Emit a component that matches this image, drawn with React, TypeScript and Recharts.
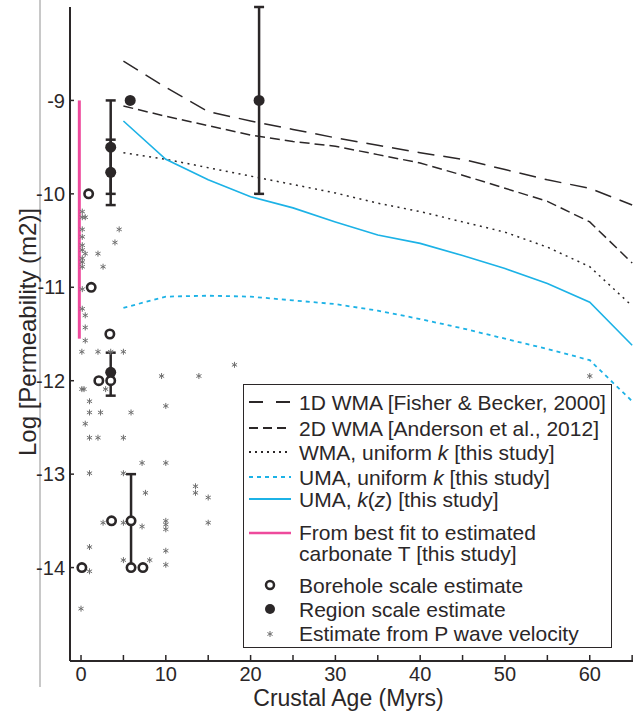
import React from 'react';
import { ComposedChart, Line, Scatter, XAxis, YAxis, ErrorBar } from 'recharts';

// Model curves, sampled every 5 Myr
const AGES = [5, 10, 15, 20, 25, 30, 35, 40, 45, 50, 55, 60, 65];
const WMA_1D = [-8.58, -8.86, -9.12, -9.22, -9.31, -9.4, -9.48, -9.56, -9.63, -9.74, -9.85, -9.94, -10.12];
const WMA_2D = [-9.06, -9.17, -9.27, -9.37, -9.44, -9.49, -9.58, -9.67, -9.8, -9.94, -10.08, -10.3, -10.74];
const WMA_UNIFORM = [-9.56, -9.63, -9.72, -9.81, -9.9, -9.99, -10.1, -10.19, -10.3, -10.41, -10.57, -10.78, -11.2];
const UMA_UNIFORM = [-11.22, -11.1, -11.09, -11.1, -11.14, -11.18, -11.25, -11.34, -11.44, -11.55, -11.66, -11.78, -12.22];
const UMA_KZ = [-9.22, -9.63, -9.85, -10.03, -10.15, -10.3, -10.44, -10.53, -10.66, -10.8, -10.96, -11.16, -11.62];

// Range from best fit to carbonate temperatures
const CARBONATE_AGE = [-0.2, -0.2];
const CARBONATE_LOGK = [-9, -11.55];

// Borehole scale estimates (open circles)
const BOREHOLE_AGE = [0.9, 1.2, 3.4, 2.1, 3.5, 3.6, 0.1, 5.9, 7.3];
const BOREHOLE_LOGK = [-10, -11, -11.5, -12, -12, -13.5, -14, -14, -14];
const BOREHOLE_BAR_AGE = [5.9];
const BOREHOLE_BAR_LOGK = [-13.5];
const BOREHOLE_BAR_ERR = [[0.5, 0.5]];

// Region scale estimates (filled circles)
const REGION_AGE = [5.8];
const REGION_LOGK = [-9.0];
const REGION_BAR_AGE = [3.5, 3.5, 21, 3.5];
const REGION_BAR_LOGK = [-9.5, -9.77, -9.0, -11.91];
const REGION_BAR_ERR = [[0.5, 0.5], [0.35, 0.35], [1, 1], [0.25, 0.21]];

// Estimates from P wave velocity
const PWAVE_AGE = [
  0.15, 0.15, 0.5, 0.15, 4.5, 0.15, 4.0, 0.15, 0.15, 0.5, 2.0, 0.15, 0.15, 0.15, 2.6, 0.15, 0.15, 0.5, 0.5, 0.5,
  0.1, 2.0, 3.5, 5.0, 18.1, 9.5, 13.9, 60, 0.1, 0.35, 2.9, 1.0, 1.0, 2.3, 5.9, 0.5, 1.0, 2.0, 5.0,
  10, 10, 7.2, 5, 1, 7.6, 13.5, 13.5, 15, 15, 10, 10, 10, 10, 10, 8.1, 5, 7.2, 5, 2.6, 1, 1, 0,
];
const PWAVE_LOGK = [
  -10.19, -10.25, -10.25, -10.38, -10.38, -10.46, -10.52, -10.55, -10.6, -10.64, -10.64, -10.69, -10.73, -10.78, -10.78, -11.02, -11.23, -11.3, -11.43, -11.57,
  -11.69, -11.69, -11.69, -11.69, -11.83, -11.95, -11.95, -11.95, -12.09, -12.09, -12.09, -12.22, -12.34, -12.34, -12.34, -12.46, -12.61, -12.61, -12.61,
  -12.27, -12.88, -12.88, -12.99, -12.99, -13.2, -13.13, -13.2, -13.25, -13.52, -13.5, -13.54, -13.59, -13.82, -13.97, -13.92, -13.92, -13.56, -13.52, -13.52, -13.78, -14.04, -14.44,
];

const X_TICKS = [0, 5, 10, 15, 20, 25, 30, 35, 40, 45, 50, 55, 60, 65];
const Y_TICKS = [-14, -13, -12, -11, -10, -9];

const INK = '#2b2728';
const CYAN = '#1cb2e6';
const PINK = '#ee4a9c';
const GREY = '#6f6f6f';
const FONT = '"Liberation Sans", Arial, sans-serif';

const curve = (ys: number[]) => AGES.map((x, i) => ({ x, y: ys[i] }));
const points = (xs: number[], ys: number[]) => xs.map((x, i) => ({ x, y: ys[i] }));
const barPoints = (xs: number[], ys: number[], errs: number[][]) => xs.map((x, i) => ({ x, y: ys[i], err: errs[i] }));

const OpenCircle = (p: any) => <circle cx={p.cx} cy={p.cy} r={4.2} fill="#fff" stroke={INK} strokeWidth={2.6} />;
const FilledCircle = (p: any) => <circle cx={p.cx} cy={p.cy} r={5.5} fill={INK} />;
const Asterisk = (p: any) => {
  const a = 3;
  const c = a * Math.cos(Math.PI / 6);
  const s = a * Math.sin(Math.PI / 6);
  return (
    <g stroke={GREY} strokeWidth={1}>
      <line x1={p.cx} y1={p.cy - a} x2={p.cx} y2={p.cy + a} />
      <line x1={p.cx - c} y1={p.cy - s} x2={p.cx + c} y2={p.cy + s} />
      <line x1={p.cx - c} y1={p.cy + s} x2={p.cx + c} y2={p.cy - s} />
    </g>
  );
};

const LEGEND_LINES = [
  { label: <>1D WMA [Fisher &amp; Becker, 2000]</>, color: INK, dash: '14 13', top: 17 },
  { label: <>2D WMA [Anderson et al., 2012]</>, color: INK, dash: '9 5', top: 43 },
  { label: <>WMA, uniform <i>k</i> [this study]</>, color: INK, dash: '2 4', top: 67 },
  { label: <>UMA, uniform <i>k</i> [this study]</>, color: CYAN, dash: '4 4', top: 92 },
  { label: <>UMA, <i>k</i>(<i>z</i>) [this study]</>, color: CYAN, dash: undefined, top: 114 },
];

function LegendBox() {
  const row = (top: number): React.CSSProperties => ({
    position: 'absolute', left: 0, top: top - 12, height: 24, width: 360, display: 'flex', alignItems: 'center', whiteSpace: 'nowrap',
  });
  const text: React.CSSProperties = { position: 'absolute', left: 55, fontSize: 21, lineHeight: '21px' };
  return (
    <div style={{
      position: 'absolute', left: 243, top: 384, width: 369, height: 264, boxSizing: 'border-box',
      border: `1px solid ${INK}`, background: '#fff', fontFamily: FONT, color: INK,
    }}>
      {LEGEND_LINES.map((l, i) => (
        <div key={i} style={row(l.top)}>
          <svg width={50} height={6} style={{ position: 'absolute', left: 0 }}>
            <line x1={5} y1={3} x2={47} y2={3} stroke={l.color} strokeWidth={2} strokeDasharray={l.dash} />
          </svg>
          <span style={text}>{l.label}</span>
        </div>
      ))}
      <div style={row(148)}>
        <svg width={50} height={6} style={{ position: 'absolute', left: 0 }}>
          <line x1={5} y1={3} x2={47} y2={3} stroke={PINK} strokeWidth={2.5} />
        </svg>
        <span style={{ ...text, top: 1 }}>From best fit to estimated<br />carbonate T [this study]</span>
      </div>
      <div style={row(200)}>
        <svg width={50} height={14} style={{ position: 'absolute', left: 0 }}>
          <circle cx={26} cy={7} r={4} fill="#fff" stroke={INK} strokeWidth={2.5} />
        </svg>
        <span style={text}>Borehole scale estimate</span>
      </div>
      <div style={row(224)}>
        <svg width={50} height={14} style={{ position: 'absolute', left: 0 }}>
          <circle cx={26} cy={7} r={5} fill={INK} />
        </svg>
        <span style={text}>Region scale estimate</span>
      </div>
      <div style={row(248)}>
        <svg width={50} height={14} style={{ position: 'absolute', left: 0 }}>
          <Asterisk cx={26} cy={8} />
        </svg>
        <span style={text}>Estimate from P wave velocity</span>
      </div>
    </div>
  );
}

export default function App() {
  const tickStyle = { fill: INK, fontSize: 20, fontFamily: FONT };
  return (
    <div style={{ position: 'absolute', left: 0, top: 0, width: 633, height: 713, background: '#fff', overflow: 'hidden' }}>
      <div style={{ position: 'absolute', left: 39, top: 0, width: 1.5, height: 687, background: '#c8c8c8' }} />
      <ComposedChart width={633} height={713} margin={{ top: 7, right: 0, bottom: 0, left: 0 }}>
        <XAxis
          dataKey="x" type="number" domain={[-1.3, 65.1]} allowDataOverflow ticks={X_TICKS}
          height={52} tickSize={-6} tickMargin={12}
          tickFormatter={(v: number) => (v % 10 === 0 ? String(v) : '')}
          tick={tickStyle} axisLine={{ stroke: INK, strokeWidth: 2 }} tickLine={{ stroke: INK, strokeWidth: 1.5 }}
          label={{ value: 'Crustal Age (Myrs)', position: 'insideBottom', offset: 7, dx: -3, style: { fill: INK, fontSize: 23, fontFamily: FONT } }}
        />
        <XAxis
          xAxisId="top" orientation="top" dataKey="x" type="number" domain={[-1.3, 65.1]} allowDataOverflow ticks={X_TICKS}
          height={0} tickSize={-7} tickFormatter={() => ''}
          axisLine={{ stroke: INK, strokeWidth: 2 }} tickLine={{ stroke: INK, strokeWidth: 1.5 }}
        />
        <YAxis
          type="number" domain={[-15, -8]} allowDataOverflow ticks={Y_TICKS} width={70}
          tickSize={-4} tickMargin={9} tick={tickStyle}
          axisLine={{ stroke: INK, strokeWidth: 2 }} tickLine={{ stroke: INK, strokeWidth: 1.5 }}
          label={{ value: 'Log [Permeability (m2)]', angle: -90, position: 'center', dx: -8, dy: -2, style: { fill: INK, fontSize: 24, fontFamily: FONT } }}
        />

        <Line data={curve(WMA_1D)} dataKey="y" stroke={INK} strokeWidth={1.5} strokeDasharray="17 9" dot={false} isAnimationActive={false} />
        <Line data={curve(WMA_2D)} dataKey="y" stroke={INK} strokeWidth={1.5} strokeDasharray="10 5" dot={false} isAnimationActive={false} />
        <Line data={curve(WMA_UNIFORM)} dataKey="y" stroke={INK} strokeWidth={1.5} strokeDasharray="2 4.5" dot={false} isAnimationActive={false} />
        <Line data={curve(UMA_UNIFORM)} dataKey="y" stroke={CYAN} strokeWidth={1.8} strokeDasharray="4 4" dot={false} isAnimationActive={false} />
        <Line data={curve(UMA_KZ)} dataKey="y" stroke={CYAN} strokeWidth={1.6} dot={false} isAnimationActive={false} />
        <Line data={points(CARBONATE_AGE, CARBONATE_LOGK)} dataKey="y" stroke={PINK} strokeWidth={3} dot={false} isAnimationActive={false} />

        <Scatter data={points(PWAVE_AGE, PWAVE_LOGK)} dataKey="y" shape={Asterisk} isAnimationActive={false} />
        <Scatter data={barPoints(BOREHOLE_BAR_AGE, BOREHOLE_BAR_LOGK, BOREHOLE_BAR_ERR)} dataKey="y" shape={OpenCircle} isAnimationActive={false}>
          <ErrorBar dataKey="err" direction="y" width={5} stroke={INK} strokeWidth={2.5} />
        </Scatter>
        <Scatter data={barPoints(REGION_BAR_AGE, REGION_BAR_LOGK, REGION_BAR_ERR)} dataKey="y" shape={FilledCircle} isAnimationActive={false}>
          <ErrorBar dataKey="err" direction="y" width={5} stroke={INK} strokeWidth={2.5} />
        </Scatter>
        <Scatter data={points(BOREHOLE_AGE, BOREHOLE_LOGK)} dataKey="y" shape={OpenCircle} isAnimationActive={false} />
        <Scatter data={points(REGION_AGE, REGION_LOGK)} dataKey="y" shape={FilledCircle} isAnimationActive={false} />
      </ComposedChart>
      <LegendBox />
    </div>
  );
}
